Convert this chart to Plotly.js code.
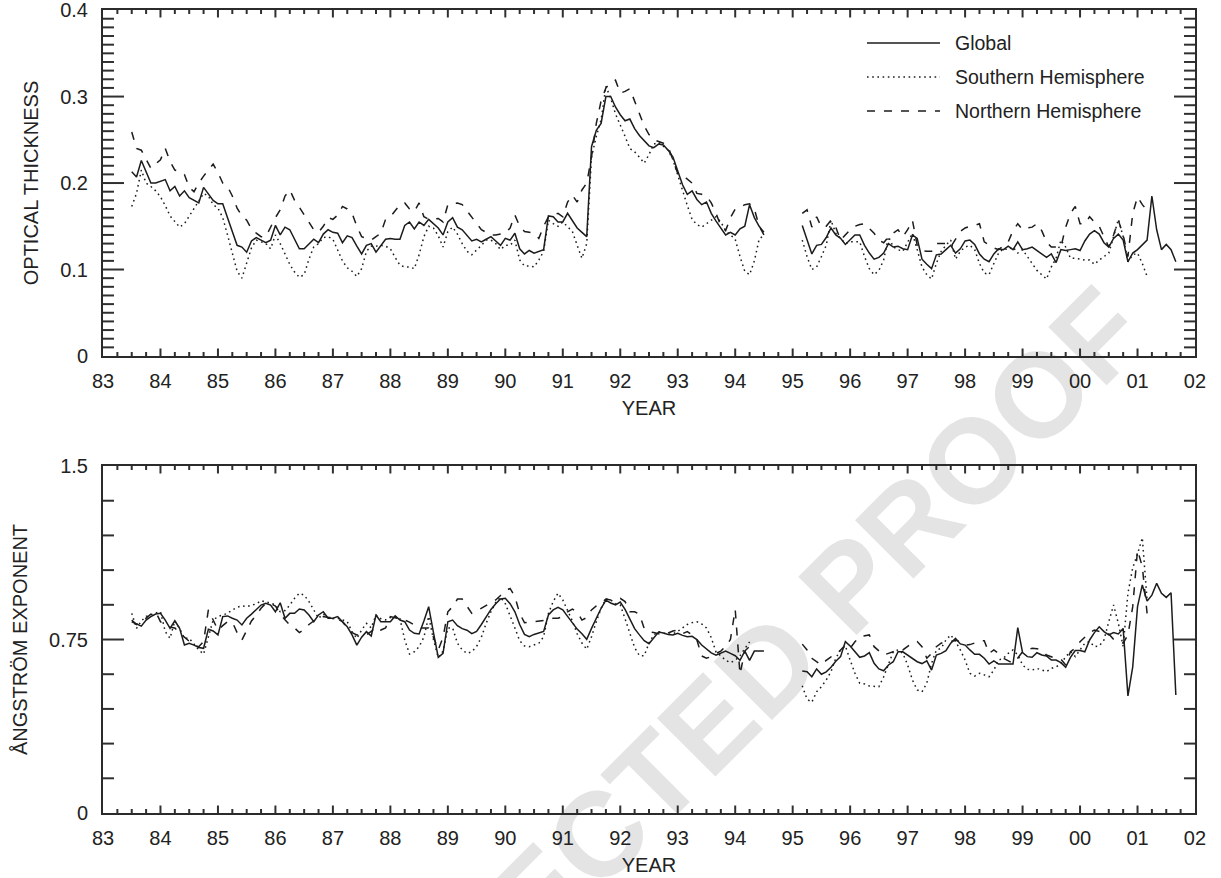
<!DOCTYPE html>
<html>
<head>
<meta charset="utf-8">
<script src="https://cdn.plot.ly/plotly-3.0.1.min.js"></script>
<style>html,body{margin:0;padding:0;background:#fff;}#chart{width:1221px;height:878px;}</style>
</head>
<body>
<div id="chart"></div>
<script>
// ---- DATA (monthly values, first month = July 1983; second record starts March 1995) ----
const firstMonth = 83.5;          // decimal year (19xx) of first monthly value
const secondRecordIndex = 140;    // month index where the second record begins
const yearTicks = ['83','84','85','86','87','88','89','90','91','92','93','94','95','96','97','98','99','00','01','02'];
const seriesNames = ['Global', 'Southern Hemisphere', 'Northern Hemisphere'];

// Optical thickness
const aotGlobal1 = [0.213,0.207,0.226,0.212,0.200,0.200,0.202,0.204,0.191,0.196,
 0.185,0.191,0.183,0.180,0.177,0.195,0.188,0.180,0.176,0.176,
 0.160,0.143,0.128,0.126,0.120,0.133,0.137,0.134,0.131,0.134,
 0.151,0.140,0.149,0.146,0.135,0.124,0.124,0.129,0.135,0.131,
 0.141,0.146,0.143,0.142,0.131,0.139,0.137,0.127,0.118,0.128,
 0.130,0.120,0.128,0.135,0.136,0.135,0.135,0.151,0.155,0.147,
 0.155,0.151,0.158,0.153,0.148,0.140,0.155,0.160,0.149,0.146,0.140,
 0.133,0.135,0.132,0.135,0.138,0.133,0.128,0.136,0.134,0.142,
 0.124,0.118,0.122,0.119,0.121,0.123,0.162,0.161,0.155,0.155,
 0.165,0.156,0.148,0.143,0.138,0.242,0.261,0.269,0.300,0.300,
 0.288,0.279,0.272,0.274,0.263,0.255,0.249,0.243,0.241,0.245,
 0.244,0.238,0.230,0.215,0.198,0.187,0.191,0.181,0.175,0.178,
 0.165,0.156,0.148,0.140,0.143,0.140,0.147,0.150,0.175,0.160,
 0.150,0.143];
const aotGlobal2 = [0.151,0.134,0.118,0.128,0.129,0.137,0.148,0.140,0.136,0.129,
 0.135,0.140,0.140,0.128,0.119,0.112,0.114,0.119,0.130,0.126,
 0.127,0.124,0.123,0.140,0.136,0.112,0.106,0.101,0.117,0.118,
 0.123,0.128,0.119,0.124,0.133,0.134,0.129,0.118,0.112,0.109,
 0.118,0.124,0.123,0.127,0.123,0.132,0.123,0.124,0.126,0.122,
 0.118,0.114,0.118,0.108,0.123,0.122,0.123,0.124,0.122,0.133,
 0.141,0.145,0.141,0.131,0.126,0.136,0.141,0.134,0.109,0.119,
 0.123,0.128,0.134,0.185,0.146,0.123,0.129,0.123,0.109];
const aotSouth1 = [0.173,0.188,0.215,0.200,0.196,0.191,0.184,0.174,0.162,0.155,
 0.149,0.153,0.162,0.170,0.180,0.188,0.185,0.175,0.171,0.160,
 0.140,0.118,0.098,0.090,0.107,0.125,0.134,0.132,0.130,0.124,
 0.140,0.130,0.118,0.106,0.097,0.091,0.094,0.112,0.126,0.130,
 0.137,0.138,0.135,0.122,0.110,0.102,0.098,0.092,0.101,0.121,
 0.127,0.127,0.128,0.127,0.124,0.114,0.105,0.103,0.103,0.101,
 0.117,0.138,0.150,0.148,0.139,0.126,0.144,0.149,0.141,0.130,0.121,
 0.117,0.122,0.128,0.134,0.134,0.130,0.123,0.128,0.128,0.134,
 0.111,0.104,0.104,0.103,0.111,0.121,0.157,0.153,0.150,0.155,
 0.149,0.144,0.128,0.113,0.130,0.230,0.254,0.273,0.312,0.298,
 0.280,0.268,0.254,0.240,0.236,0.230,0.223,0.233,0.245,0.247,
 0.243,0.238,0.227,0.209,0.190,0.174,0.158,0.152,0.149,0.153,
 0.158,0.161,0.155,0.145,0.140,0.135,0.115,0.098,0.094,0.110,
 0.135,0.140];
const aotSouth2 = [0.134,0.115,0.100,0.103,0.115,0.128,0.157,0.142,0.136,0.130,
 0.132,0.132,0.132,0.115,0.101,0.094,0.099,0.111,0.138,0.126,
 0.123,0.121,0.132,0.142,0.123,0.103,0.094,0.089,0.107,0.121,
 0.128,0.134,0.112,0.121,0.126,0.128,0.123,0.107,0.096,0.094,
 0.107,0.119,0.124,0.123,0.126,0.119,0.123,0.115,0.107,0.099,
 0.094,0.089,0.103,0.113,0.134,0.126,0.113,0.113,0.112,0.111,
 0.111,0.106,0.111,0.115,0.119,0.138,0.158,0.138,0.109,0.117,
 0.119,0.107,0.092];
const aotNorth1 = [0.259,0.240,0.238,0.228,0.217,0.222,0.227,0.240,0.225,0.215,
 0.213,0.210,0.195,0.190,0.200,0.208,0.215,0.222,0.212,0.200,
 0.196,0.185,0.171,0.162,0.157,0.147,0.142,0.138,0.138,0.150,
 0.160,0.169,0.185,0.192,0.180,0.172,0.163,0.155,0.146,0.143,
 0.150,0.160,0.158,0.163,0.173,0.170,0.165,0.150,0.138,0.136,
 0.134,0.138,0.142,0.158,0.161,0.168,0.175,0.177,0.170,0.167,
 0.177,0.161,0.158,0.158,0.159,0.155,0.175,0.176,0.177,0.175,0.168,
 0.161,0.154,0.146,0.143,0.140,0.140,0.141,0.142,0.148,0.163,
 0.150,0.144,0.143,0.142,0.136,0.150,0.161,0.163,0.165,0.161,
 0.178,0.186,0.178,0.192,0.200,0.230,0.269,0.295,0.310,0.316,
 0.319,0.304,0.306,0.309,0.295,0.280,0.266,0.256,0.250,0.248,
 0.246,0.242,0.227,0.211,0.209,0.205,0.200,0.188,0.187,0.185,
 0.177,0.165,0.150,0.145,0.160,0.170,0.172,0.175,0.176,0.170,
 0.150,0.140];
const aotNorth2 = [0.165,0.169,0.149,0.161,0.149,0.150,0.157,0.149,0.134,0.140,
 0.146,0.150,0.152,0.153,0.148,0.142,0.134,0.131,0.138,0.142,
 0.146,0.138,0.146,0.157,0.128,0.122,0.121,0.121,0.130,0.130,
 0.130,0.126,0.135,0.144,0.148,0.150,0.151,0.153,0.132,0.128,
 0.125,0.123,0.128,0.132,0.145,0.153,0.146,0.148,0.149,0.153,
 0.145,0.132,0.126,0.126,0.126,0.149,0.165,0.173,0.153,0.153,
 0.161,0.155,0.150,0.138,0.126,0.140,0.157,0.140,0.115,0.165,
 0.184,0.175,0.169];

// Angstrom exponent
const angGlobal1 = [0.827,0.817,0.808,0.834,0.849,0.860,0.863,0.834,0.798,0.831,
 0.798,0.726,0.734,0.726,0.715,0.712,0.794,0.787,0.770,0.849,
 0.852,0.842,0.834,0.813,0.842,0.860,0.881,0.899,0.907,0.899,
 0.870,0.909,0.842,0.863,0.863,0.882,0.878,0.856,0.827,0.856,
 0.870,0.842,0.842,0.849,0.827,0.805,0.770,0.726,0.760,0.784,
 0.765,0.856,0.827,0.827,0.827,0.852,0.834,0.827,0.791,0.777,
 0.774,0.830,0.892,0.780,0.673,0.690,0.827,0.834,0.810,0.797,0.790,
 0.775,0.785,0.815,0.850,0.880,0.905,0.925,0.928,0.905,0.870,
 0.815,0.772,0.762,0.772,0.777,0.785,0.856,0.878,0.889,0.878,
 0.850,0.823,0.795,0.775,0.751,0.798,0.842,0.885,0.920,0.908,
 0.900,0.912,0.880,0.835,0.797,0.770,0.745,0.732,0.755,0.782,
 0.778,0.772,0.770,0.777,0.768,0.762,0.764,0.750,0.726,0.708,
 0.692,0.682,0.690,0.700,0.690,0.680,0.660,0.700,0.660,0.700,
 0.700,0.700];
const angGlobal2 = [0.614,0.611,0.589,0.623,0.600,0.610,0.630,0.656,0.676,0.741,
 0.722,0.697,0.673,0.679,0.693,0.647,0.623,0.615,0.640,0.654,
 0.697,0.697,0.683,0.669,0.654,0.646,0.658,0.618,0.683,0.690,
 0.702,0.734,0.755,0.731,0.726,0.705,0.686,0.686,0.669,0.644,
 0.658,0.644,0.644,0.644,0.644,0.801,0.693,0.676,0.673,0.693,
 0.683,0.679,0.661,0.661,0.650,0.630,0.673,0.702,0.702,0.697,
 0.748,0.780,0.805,0.784,0.770,0.780,0.774,0.798,0.506,0.632,
 0.892,0.986,0.916,0.942,0.993,0.950,0.932,0.952,0.510];
const angSouth1 = [0.863,0.798,0.830,0.850,0.856,0.865,0.870,0.784,0.755,0.830,
 0.798,0.755,0.755,0.730,0.705,0.687,0.755,0.834,0.849,0.855,
 0.863,0.878,0.889,0.896,0.892,0.898,0.904,0.918,0.914,0.907,
 0.900,0.870,0.875,0.899,0.928,0.950,0.942,0.914,0.878,0.842,
 0.860,0.845,0.840,0.842,0.835,0.827,0.784,0.755,0.791,0.820,
 0.800,0.856,0.840,0.835,0.845,0.849,0.840,0.748,0.687,0.697,
 0.719,0.760,0.850,0.750,0.672,0.700,0.800,0.800,0.734,0.705,0.690,
 0.697,0.720,0.760,0.820,0.870,0.910,0.933,0.905,0.855,0.800,
 0.745,0.722,0.719,0.726,0.734,0.762,0.863,0.914,0.950,0.921,
 0.875,0.830,0.775,0.735,0.708,0.762,0.827,0.885,0.925,0.921,
 0.905,0.900,0.840,0.775,0.715,0.680,0.680,0.735,0.770,0.784,
 0.777,0.772,0.775,0.785,0.800,0.815,0.823,0.827,0.817,0.800,
 0.758,0.695,0.680,0.660,0.650,0.660,0.680,0.710,0.740];
const angSouth2 = [0.550,0.492,0.479,0.524,0.546,0.575,0.611,0.669,0.705,0.722,
 0.661,0.604,0.561,0.558,0.549,0.546,0.546,0.589,0.647,0.697,
 0.705,0.690,0.640,0.575,0.532,0.524,0.561,0.647,0.705,0.712,
 0.748,0.770,0.741,0.705,0.661,0.604,0.592,0.604,0.597,0.589,
 0.618,0.661,0.669,0.690,0.705,0.683,0.640,0.621,0.618,0.625,
 0.618,0.611,0.625,0.632,0.644,0.676,0.697,0.676,0.705,0.734,
 0.741,0.719,0.722,0.748,0.827,0.899,0.820,0.720,0.950,1.060,
 1.120,1.190,0.920];
const angNorth1 = [0.834,0.815,0.825,0.842,0.860,0.870,0.827,0.810,0.803,0.800,
 0.777,0.760,0.741,0.725,0.719,0.741,0.878,0.834,0.791,0.810,
 0.827,0.825,0.780,0.748,0.791,0.830,0.856,0.885,0.907,0.905,
 0.895,0.860,0.835,0.813,0.800,0.780,0.794,0.815,0.830,0.845,
 0.849,0.845,0.845,0.838,0.827,0.800,0.780,0.770,0.770,0.770,
 0.785,0.805,0.791,0.800,0.849,0.845,0.840,0.834,0.825,0.813,
 0.800,0.800,0.800,0.760,0.705,0.760,0.870,0.892,0.925,0.925,0.895,
 0.863,0.873,0.885,0.900,0.909,0.921,0.940,0.960,0.971,0.935,
 0.863,0.823,0.825,0.827,0.830,0.831,0.835,0.842,0.842,0.849,
 0.870,0.881,0.870,0.834,0.845,0.878,0.895,0.907,0.925,0.921,
 0.925,0.928,0.914,0.870,0.870,0.860,0.798,0.784,0.780,0.775,
 0.770,0.778,0.787,0.791,0.775,0.784,0.770,0.748,0.679,0.669,
 0.676,0.690,0.700,0.720,0.750,0.880,0.600,0.700,0.720];
const angNorth2 = [0.730,0.705,0.669,0.655,0.640,0.660,0.675,0.683,0.705,0.726,
 0.712,0.740,0.762,0.766,0.770,0.719,0.700,0.683,0.690,0.698,
 0.705,0.705,0.720,0.735,0.741,0.719,0.669,0.690,0.719,0.734,
 0.741,0.741,0.748,0.740,0.726,0.728,0.735,0.745,0.745,0.690,
 0.705,0.690,0.669,0.658,0.647,0.670,0.697,0.705,0.712,0.710,
 0.705,0.683,0.675,0.668,0.665,0.640,0.697,0.712,0.740,0.762,
 0.780,0.791,0.785,0.778,0.774,0.751,0.745,0.734,0.770,0.892,
 1.137,1.065,0.863];

// ---- BUILD ----
function joinRecords(a, b) {
  const out = a.slice();
  while (out.length < secondRecordIndex) out.push(null);
  return out.concat(b);
}
const totalMonths = secondRecordIndex + 79;
const months = [];
for (let i = 0; i < totalMonths; i++) months.push(firstMonth + i / 12);

const FONT = '"Liberation Sans", Arial, Helvetica, sans-serif';
const INK = '#1c1c1c';
const AX = '#2b2b2b';
const DASHES = ['solid', '1.6px,3.6px', '8px,9px'];

function trace(vals, k, xa, ya) {
  const y = vals.slice();
  while (y.length < months.length) y.push(null);
  return { x: months, y: y, mode: 'lines', name: seriesNames[k], xaxis: xa, yaxis: ya,
    connectgaps: false, showlegend: false, hoverinfo: 'skip',
    line: { color: INK, width: 1.5, dash: DASHES[k] } };
}

const data = [
  trace(joinRecords(aotSouth1, aotSouth2), 1, 'x', 'y'),
  trace(joinRecords(aotNorth1, aotNorth2), 2, 'x', 'y'),
  trace(joinRecords(aotGlobal1, aotGlobal2), 0, 'x', 'y'),
  trace(joinRecords(angSouth1, angSouth2), 1, 'x2', 'y2'),
  trace(joinRecords(angNorth1, angNorth2), 2, 'x2', 'y2'),
  trace(joinRecords(angGlobal1, angGlobal2), 0, 'x2', 'y2')
];

const aliases = {};
for (let k = 0; k < yearTicks.length; k++) aliases[String(83 + k)] = yearTicks[k];

const XR = [83, 102.0001];
const base = { showgrid: false, zeroline: false, fixedrange: true, showline: true, linecolor: AX, linewidth: 2,
  mirror: true, ticks: '' };

function xAxis(anchor) {
  return Object.assign({}, base, {
    anchor: anchor, range: XR, tickmode: 'linear', tick0: 83, dtick: 1,
    labelalias: aliases,
    tickfont: { family: FONT, size: 20, color: '#222' },
    ticklabelstandoff: 6, ticklabeloverflow: 'allow',
    title: { text: 'YEAR', font: { family: FONT, size: 20, color: '#222' }, standoff: 10 }
  });
}
function yAxis(anchor, domain, range, dtick, title) {
  return Object.assign({}, base, {
    anchor: anchor, domain: domain, range: range, tickmode: 'linear', tick0: 0, dtick: dtick,
    tickfont: { family: FONT, size: 20, color: '#222' },
    ticklabelstandoff: 9, ticklabeloverflow: 'allow',
    title: { text: title, font: { family: FONT, size: 20, color: '#222' }, standoff: 16 }
  });
}

// paper-coordinate helpers (plot area: x 103..1195 px, y 10..813 px)
const L = 103, R = 1195, T = 10, B = 813;
const px = v => (v - L) / (R - L);
const py = v => (B - v) / (B - T);
const plotW = R - L;

const shapes = [];
const annotations = [];

// inside tick marks on all four sides of each panel (major + minor), placed on the axis scales
const tickLine = { color: '#303030', width: 2 };
function panelTicks(xa, ya, panelH, yMinorStep, yMinorCount, yMajorEvery) {
  const yd = ya + ' domain', xd = xa + ' domain';
  for (let k = 1; k < 76; k++) {               // quarter-year ticks between 83 and 02
    const v = 83 + k * 0.25;
    const len = (k % 4 === 0 ? 7.5 : 4) / panelH;
    shapes.push({ type: 'line', xref: xa, yref: yd, x0: v, x1: v, y0: 0, y1: len, line: tickLine });
    shapes.push({ type: 'line', xref: xa, yref: yd, x0: v, x1: v, y0: 1, y1: 1 - len, line: tickLine });
  }
  for (let k = 1; k < yMinorCount; k++) {
    const v = k * yMinorStep;
    const len = (k % yMajorEvery === 0 ? 21 : 11) / plotW;
    shapes.push({ type: 'line', xref: xd, yref: ya, x0: 0, x1: len, y0: v, y1: v, line: tickLine });
    shapes.push({ type: 'line', xref: xd, yref: ya, x0: 1, x1: 1 - len, y0: v, y1: v, line: tickLine });
  }
}
panelTicks('x', 'y', 346, 0.01, 40, 10);
panelTicks('x2', 'y2', 347, 0.15, 10, 5);

// legend (inside top panel, upper right)
const legRows = [43, 77, 111];
for (let k = 0; k < 3; k++) {
  shapes.push({ type: 'line', xref: 'paper', yref: 'paper', x0: px(867), x1: px(940), y0: py(legRows[k]), y1: py(legRows[k]),
    line: { color: INK, width: 1.5, dash: DASHES[k] } });
  annotations.push({ xref: 'paper', yref: 'paper', x: px(953), y: py(legRows[k]), xanchor: 'left', yanchor: 'middle',
    text: seriesNames[k], showarrow: false, font: { family: FONT, size: 19.5, color: '#222' } });
}
// proof watermark
const wmx = 684, wmy = 733;
shapes.push({ type: 'line', xref: 'paper', yref: 'paper', layer: 'below',
  x0: px(wmx - 100), y0: py(wmy + 100), x1: px(wmx + 100), y1: py(wmy - 100),
  line: { color: 'rgba(0,0,0,0)', width: 1 },
  label: { text: 'CORRECTED PROOF', textangle: -45, textposition: 'middle', xanchor: 'center', yanchor: 'middle',
    font: { family: FONT, size: 120, color: '#e4e4e4', weight: 700 } } });

const layout = {
  width: 1221, height: 878,
  margin: { l: L, r: 1221 - R, t: T, b: 878 - B, pad: 0 },
  paper_bgcolor: '#ffffff', plot_bgcolor: 'rgba(0,0,0,0)',
  showlegend: false,
  font: { family: FONT, color: '#222' },
  xaxis: xAxis('y'),
  yaxis: yAxis('x', [py(356), 1], [0, 0.4001], 0.1, 'OPTICAL THICKNESS'),
  xaxis2: xAxis('y2'),
  yaxis2: yAxis('x2', [0, py(466)], [0, 1.5001], 0.75, 'ÅNGSTRÖM EXPONENT'),
  shapes: shapes,
  annotations: annotations
};

Plotly.newPlot('chart', data, layout, { displayModeBar: false, staticPlot: true });
</script>
</body>
</html>
